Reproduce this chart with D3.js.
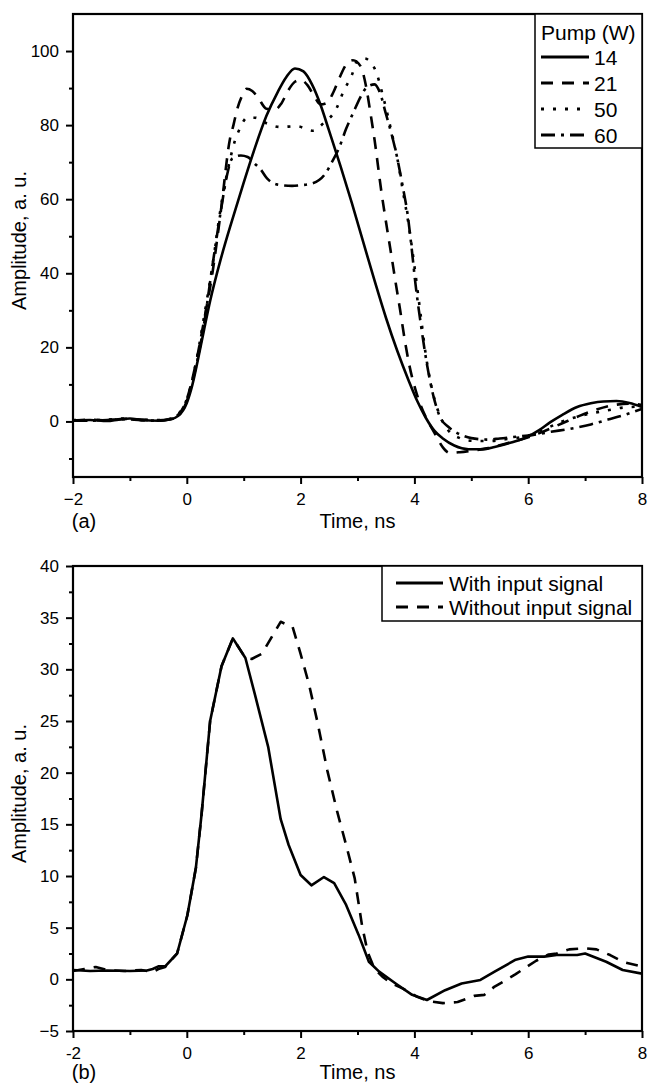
<!DOCTYPE html>
<html><head><meta charset="utf-8">
<script src="https://cdn.jsdelivr.net/npm/d3@7"></script>
<style>
body{margin:0;background:#fff;}
text{font-family:"Liberation Sans",Arial,sans-serif;fill:#000;}
</style>
</head><body>
<svg id="chart" width="648" height="1085"></svg>
<script>
// ---------- data ----------
const timeTicks = [-2, 0, 2, 4, 6, 8];
const timeMinor = [-1, 1, 3, 5, 7];
const ampTicksA = [0, 20, 40, 60, 80, 100];
const ampMinorA = [-10, 10, 30, 50, 70, 90];
const ampTicksB = [-5, 0, 5, 10, 15, 20, 25, 30, 35, 40];
const ampMinorB = [-2.5, 2.5, 7.5, 12.5, 17.5, 22.5, 27.5, 32.5, 37.5];
const pumpLabels = ["14", "21", "50", "60"];
const signalLabels = ["With input signal", "Without input signal"];

const pump14 = [[-2,0.3],[-1.7,0.4],[-1.4,0.1],[-1.2,0.5],[-1.0,0.8],[-0.8,0.4],[-0.5,0.2],[-0.3,0.5],[-0.15,1.5],[0,5],[0.1,10],[0.2,17],[0.3,24.5],[0.41,32.5],[0.6,44],[0.8,54.5],[1.0,64.5],[1.2,74],[1.4,82.5],[1.6,89],[1.75,93],[1.9,95.3],[2.05,94.5],[2.2,91],[2.35,85.5],[2.5,78.5],[2.7,69],[2.9,59],[3.1,48.5],[3.3,38],[3.5,28],[3.7,19],[3.9,11],[4.05,5.5],[4.2,1],[4.35,-2.5],[4.5,-4.6],[4.7,-6.5],[4.95,-7.5],[5.2,-7.5],[5.41,-6.9],[5.7,-5.7],[5.98,-4.2],[6.2,-2.3],[6.39,-0.2],[6.6,1.8],[6.86,3.9],[7.1,4.9],[7.32,5.4],[7.55,5.5],[7.78,5.0],[8.0,3.9]];
const pump21 = [[-2,0.2],[-1.7,0.5],[-1.4,0.3],[-1.1,0.7],[-0.8,0.5],[-0.5,0.3],[-0.3,0.6],[-0.15,1.8],[0,6],[0.15,15],[0.3,27],[0.45,40],[0.6,57],[0.76,76.4],[0.82,80],[0.88,84],[0.96,87.5],[1.05,89.8],[1.15,89.2],[1.25,87.5],[1.4,84.4],[1.55,84.2],[1.66,85.8],[1.78,89.3],[1.9,91.7],[2.0,92.2],[2.12,90.8],[2.24,87.8],[2.35,85.6],[2.46,86],[2.58,89],[2.69,93],[2.8,96.3],[2.92,97.5],[3.05,96],[3.15,90.5],[3.22,84],[3.3,76],[3.42,62],[3.52,52],[3.6,44.4],[3.67,37.5],[3.75,30],[3.82,23],[3.9,16],[4.03,8],[4.19,1.5],[4.35,-3],[4.5,-7],[4.62,-8.5],[4.8,-8.3],[5.0,-7.9],[5.3,-7.2],[5.6,-6],[6.0,-4.3],[6.3,-2.5],[6.6,-0.5],[6.9,1.5],[7.2,3.2],[7.5,4.4],[7.8,4.8],[8.0,4.4]];
const pump50 = [[-2,0.4],[-1.7,0.3],[-1.4,0.5],[-1.1,0.8],[-0.8,0.4],[-0.5,0.4],[-0.3,0.7],[-0.15,2],[0,6],[0.15,15],[0.3,28],[0.45,42],[0.6,58],[0.75,70],[0.85,76],[0.93,79],[1.06,82],[1.2,82],[1.4,80.5],[1.64,79.5],[1.93,79.7],[2.22,78.5],[2.4,80.5],[2.63,84.5],[2.75,89],[2.9,93.5],[3.0,97.5],[3.12,98],[3.3,95.3],[3.47,86.5],[3.6,78],[3.7,71],[3.8,62],[3.9,53],[4.0,42],[4.1,30],[4.2,18],[4.32,8],[4.45,1.5],[4.6,-2.5],[4.8,-4.5],[5.0,-5.2],[5.3,-5.3],[5.6,-4.8],[6.0,-3.8],[6.3,-2],[6.6,0],[7.0,1.8],[7.4,3.0],[7.7,3.8],[8.0,4.0]];
const pump60 = [[-2,0.3],[-1.7,0.2],[-1.4,0.4],[-1.1,0.6],[-0.8,0.3],[-0.5,0.2],[-0.3,0.5],[-0.15,1.5],[0,5.5],[0.15,14],[0.3,26],[0.45,42],[0.6,57],[0.7,66],[0.8,71],[0.95,71.8],[1.07,71.4],[1.2,69.5],[1.29,68.2],[1.41,65.6],[1.58,64],[1.85,63.6],[2.02,63.8],[2.19,64.2],[2.43,66.8],[2.55,70],[2.68,74],[2.8,79],[2.93,83.5],[3.05,87.5],[3.15,90],[3.3,91],[3.4,88.5],[3.5,83],[3.6,77.5],[3.7,71],[3.8,63],[3.88,56],[3.95,47],[4.02,37],[4.12,25.5],[4.22,15.5],[4.34,6.5],[4.45,1.2],[4.6,-1.5],[4.8,-3.5],[5.0,-4.5],[5.27,-4.9],[5.5,-4.6],[5.8,-4.1],[6.0,-3.8],[6.4,-2.8],[6.8,-1.8],[7.1,-0.8],[7.4,0.5],[7.7,1.8],[8.0,3.4]];

const withSignal = [[-2,0.9],[-1.7,0.8],[-1.4,0.85],[-1.0,0.8],[-0.7,0.85],[-0.6,1.0],[-0.5,1.25],[-0.38,1.25],[-0.17,2.5],[0.01,6.2],[0.16,10.8],[0.26,16],[0.41,25],[0.61,30.3],[0.81,33],[1.03,31.1],[1.2,27.5],[1.43,22.5],[1.65,15.5],[1.79,13],[2.0,10.1],[2.19,9.1],[2.41,9.9],[2.59,9.3],[2.8,7.2],[3.02,4.3],[3.2,1.7],[3.38,0.75],[3.67,-0.4],[3.96,-1.5],[4.22,-2.0],[4.54,-1.05],[4.83,-0.4],[5.16,-0.06],[5.41,0.75],[5.78,1.9],[6.0,2.2],[6.28,2.2],[6.5,2.35],[6.86,2.35],[7.0,2.5],[7.37,1.7],[7.66,0.9],[8.0,0.55]];
const withoutSignal = [[-2,0.8],[-1.8,1.0],[-1.6,1.2],[-1.4,0.9],[-1.1,0.8],[-0.8,0.9],[-0.6,0.7],[-0.5,1.0],[-0.38,1.2],[-0.17,2.5],[0.01,6.2],[0.16,10.8],[0.26,16],[0.41,25],[0.61,30.3],[0.81,33],[1.03,31.1],[1.14,31],[1.32,31.5],[1.5,33.2],[1.65,34.6],[1.86,34.1],[2.0,31.5],[2.15,28.5],[2.3,24.8],[2.47,20.2],[2.64,16.3],[2.8,13],[2.95,9.8],[3.08,5.2],[3.18,2.6],[3.3,1],[3.45,0.2],[3.6,-0.4],[3.8,-0.9],[4.05,-1.7],[4.25,-2.1],[4.5,-2.3],[4.76,-2.2],[5.05,-1.6],[5.23,-1.5],[5.41,-0.7],[5.6,-0.1],[5.78,0.5],[6.0,1.3],[6.14,1.8],[6.36,2.4],[6.5,2.5],[6.72,2.9],[7.0,3.0],[7.2,2.9],[7.44,2.35],[7.66,1.7],[7.95,1.3],[8.0,1.2]];

// ---------- drawing ----------
const svg = d3.select("#chart");
svg.append("rect").attr("width", 648).attr("height", 1085).attr("fill", "#fff");

const dashes = {solid: null, dashed: "12,9", dotted: "3,9", dashdot: "14,6,3,6"};

function drawPanel(o) {
  const x = d3.scaleLinear().domain([-2, 8]).range([73, 642]);
  const y = d3.scaleLinear().domain(o.yDomain).range([o.bottom, o.top]);
  const g = svg.append("g");
  const clipId = "clip" + o.id;
  g.append("clipPath").attr("id", clipId).append("rect")
    .attr("x", x(-2)).attr("y", o.top).attr("width", x(8) - x(-2)).attr("height", o.bottom - o.top);

  const line = d3.line().x(d => x(d[0])).y(d => y(d[1])).curve(o.curve);
  const lg = g.append("g").attr("clip-path", `url(#${clipId})`);
  o.series.forEach(s => {
    lg.append("path").datum(s.data).attr("d", line)
      .attr("fill", "none").attr("stroke", "#000").attr("stroke-width", 2.6)
      .attr("stroke-linejoin", "round")
      .attr("stroke-dasharray", dashes[s.style]);
  });

  const ax = g.append("g").attr("transform", `translate(0,${o.bottom})`)
    .call(d3.axisBottom(x).tickValues(timeTicks).tickSize(7).tickPadding(9).tickFormat(o.xFmt));
  const axm = g.append("g").attr("transform", `translate(0,${o.bottom})`)
    .call(d3.axisBottom(x).tickValues(timeMinor).tickSize(4).tickFormat(""));
  const ay = g.append("g").attr("transform", `translate(${x(-2)},0)`)
    .call(d3.axisLeft(y).tickValues(o.yMajor).tickSize(7).tickPadding(7).tickFormat(d3.format("d")));
  const aym = g.append("g").attr("transform", `translate(${x(-2)},0)`)
    .call(d3.axisLeft(y).tickValues(o.yMinor).tickSize(4).tickFormat(""));
  [ax, axm, ay, aym].forEach(a => {
    a.select(".domain").remove();
    a.selectAll("line").attr("stroke", "#000").attr("stroke-width", 2);
    a.selectAll("text").attr("font-size", 17).attr("font-family", "Liberation Sans, Arial, sans-serif").attr("fill", "#000");
  });

  g.append("rect").attr("x", x(-2)).attr("y", o.top)
    .attr("width", x(8) - x(-2)).attr("height", o.bottom - o.top)
    .attr("fill", "none").attr("stroke", "#000").attr("stroke-width", 2.2);

  g.append("text").attr("transform", `translate(19,${(o.top + o.bottom) / 2 - 5}) rotate(-90)`)
    .attr("text-anchor", "middle").attr("dominant-baseline", "central")
    .attr("font-size", 20).text("Amplitude, a. u.");
  g.append("text").attr("x", (x(-2) + x(8)) / 2).attr("y", o.bottom + o.labelGap)
    .attr("text-anchor", "middle").attr("dominant-baseline", "central")
    .attr("font-size", 20).text("Time, ns");
  g.append("text").attr("x", 84).attr("y", o.bottom + o.labelGap)
    .attr("text-anchor", "middle").attr("dominant-baseline", "central")
    .attr("font-size", 20).text(o.tag);

  const L = o.legend;
  const lgd = g.append("g");
  lgd.append("rect").attr("x", L.x0).attr("y", o.top).attr("width", x(8) - L.x0).attr("height", L.y1 - o.top)
    .attr("fill", "#fff").attr("stroke", "#000").attr("stroke-width", 1.5);
  if (L.title) {
    lgd.append("text").attr("x", L.x0 + 6).attr("y", L.titleY).attr("dominant-baseline", "central")
      .attr("font-size", 21).text(L.title);
  }
  o.series.forEach((s, i) => {
    const yy = L.firstY + i * L.step;
    lgd.append("line").attr("x1", L.lx0).attr("x2", L.lx1).attr("y1", yy).attr("y2", yy)
      .attr("stroke", "#000").attr("stroke-width", 3).attr("stroke-dasharray", dashes[s.style]);
    lgd.append("text").attr("x", L.tx).attr("y", yy).attr("dominant-baseline", "central")
      .attr("font-size", 21).text(s.label);
  });
}

drawPanel({
  id: "a", top: 14, bottom: 477, yDomain: [-15, 110], yMajor: ampTicksA, yMinor: ampMinorA,
  xFmt: d3.format("d"), tag: "(a)", curve: d3.curveMonotoneX, labelGap: 44,
  series: [
    {data: pump14, style: "solid", label: pumpLabels[0]},
    {data: pump21, style: "dashed", label: pumpLabels[1]},
    {data: pump50, style: "dotted", label: pumpLabels[2]},
    {data: pump60, style: "dashdot", label: pumpLabels[3]}
  ],
  legend: {x0: 535, y1: 148, title: "Pump (W)", titleY: 32, firstY: 57, step: 26, lx0: 541, lx1: 589, tx: 594}
});

drawPanel({
  id: "b", top: 566, bottom: 1031, yDomain: [-5, 40], yMajor: ampTicksB, yMinor: ampMinorB,
  xFmt: d => String(d), tag: "(b)", curve: d3.curveLinear, labelGap: 41,
  series: [
    {data: withSignal, style: "solid", label: signalLabels[0]},
    {data: withoutSignal, style: "dashed", label: signalLabels[1]}
  ],
  legend: {x0: 382, y1: 621, title: null, firstY: 583, step: 24, lx0: 396, lx1: 443, tx: 449}
});
</script>
</body></html>
